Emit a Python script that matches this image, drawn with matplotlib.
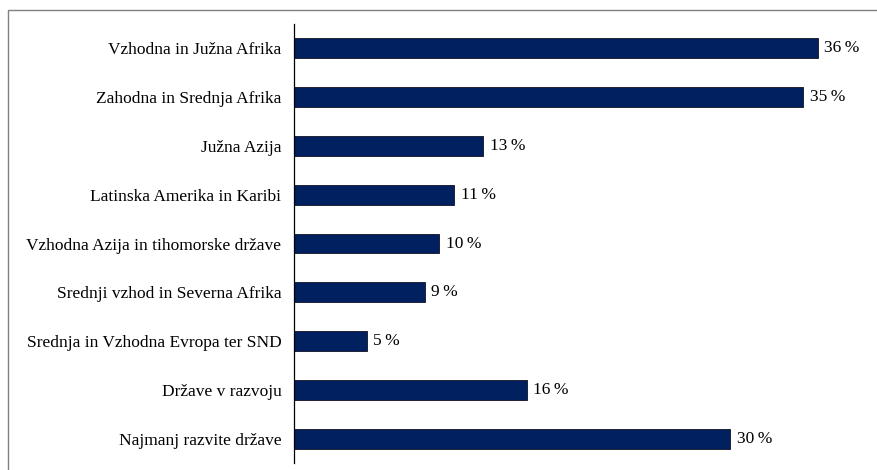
import matplotlib
matplotlib.use("Agg")
import matplotlib.pyplot as plt
from matplotlib.patches import Rectangle

regions = [
    "Vzhodna in Južna Afrika",
    "Zahodna in Srednja Afrika",
    "Južna Azija",
    "Latinska Amerika in Karibi",
    "Vzhodna Azija in tihomorske države",
    "Srednji vzhod in Severna Afrika",
    "Srednja in Vzhodna Evropa ter SND",
    "Države v razvoju",
    "Najmanj razvite države",
]
shares = [36, 35, 13, 11, 10, 9, 5, 16, 30]

plt.rcParams['font.family'] = ['Liberation Serif', 'DejaVu Serif']

fig = plt.figure(figsize=(8.77, 4.70), dpi=100)
ax = fig.add_axes([294 / 877, 7 / 470, 1 - 294 / 877, 439 / 470])

ypos = list(range(len(regions)))
ax.barh(ypos, shares, height=0.41, color='#002060', edgecolor='#101020', linewidth=0.6)

for y, v in zip(ypos, shares):
    ax.text(v + 0.45, y, f"{v}\u2009%", va='center', ha='left', fontsize=12.5)

ax.set_yticks(ypos)
ax.set_yticklabels(regions, fontsize=12.5)
ax.tick_params(axis='y', length=0, pad=9)
ax.set_ylim(len(regions) - 0.5, -0.5)
ax.set_xlim(0, 40.07)
ax.set_xticks([])
for side in ['top', 'right', 'bottom']:
    ax.spines[side].set_visible(False)
ax.spines['left'].set_linewidth(0.9)

# grey frame around the chart area
fig.patches.append(Rectangle((8 / 877, -0.1), 1.2, (470 - 10) / 470 + 0.1,
                             transform=fig.transFigure, fill=False,
                             edgecolor='#808080', linewidth=1.0))

fig.savefig('out.png', dpi=100)
